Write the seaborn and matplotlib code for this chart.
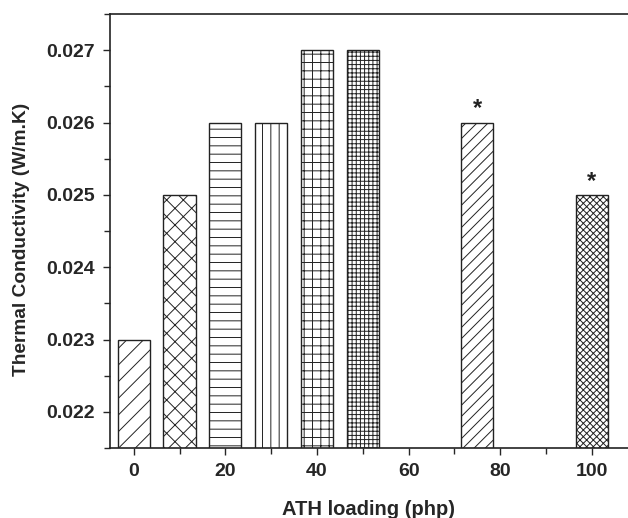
import numpy as np
import pandas as pd
import matplotlib
matplotlib.use("Agg")
import matplotlib.pyplot as plt
from matplotlib.ticker import MultipleLocator
import seaborn as sns

sns.set_style("ticks")
plt.rcParams["font.family"] = ["Liberation Sans", "DejaVu Sans"]
plt.rcParams["font.weight"] = "bold"
plt.rcParams["hatch.linewidth"] = 0.7

# data
loading = [0, 10, 20, 30, 40, 50, 75, 100]
conductivity = [0.023, 0.025, 0.026, 0.026, 0.027, 0.027, 0.026, 0.025]
hatches = ["//", "xx", "--", "||", "++", "++++", "///", "xxxxx"]
starred = [75, 100]

df = pd.DataFrame({"loading": loading, "k": conductivity})

fig = plt.figure(figsize=(6.28, 5.18), dpi=100)
ax = fig.add_axes([0.175, 0.135, 0.825, 0.838])

sns.barplot(data=df, x="loading", y="k", native_scale=True, width=0.7,
            color="white", edgecolor="#222222", linewidth=1.0, ax=ax)

for patch, h in zip(ax.patches, hatches):
    patch.set_hatch(h)
    patch.set_facecolor("white")

for xv, yv in zip(loading, conductivity):
    if xv in starred:
        ax.text(xv, yv + 0.00003, "*", ha="center", va="bottom",
                fontsize=17, fontweight="bold", color="#222222")

ax.set_xlim(-5.2, 107.9)
ax.set_ylim(0.0215, 0.0275)
ax.xaxis.set_major_locator(MultipleLocator(20))
ax.xaxis.set_minor_locator(MultipleLocator(10))
ax.yaxis.set_major_locator(MultipleLocator(0.001))
ax.yaxis.set_minor_locator(MultipleLocator(0.0005))
ax.yaxis.set_major_formatter(matplotlib.ticker.FormatStrFormatter("%.3f"))

ax.tick_params(which="major", direction="out", length=5, width=1.0,
               labelsize=14, pad=6)
ax.tick_params(which="minor", direction="out", length=4, width=1.0)
ax.tick_params(top=False, right=False, which="both")

ax.spines["right"].set_visible(False)
for s in ["left", "bottom", "top"]:
    ax.spines[s].set_linewidth(1.2)
    ax.spines[s].set_color("#222222")

ax.set_xlabel("ATH loading (php)", fontsize=14.5, fontweight="bold", labelpad=14)
ax.set_ylabel("Thermal Conductivity (W/m.K)", fontsize=13.8, fontweight="bold")
ax.yaxis.set_label_coords(-0.155, 0.48)

fig.savefig("out.png", dpi=100)
